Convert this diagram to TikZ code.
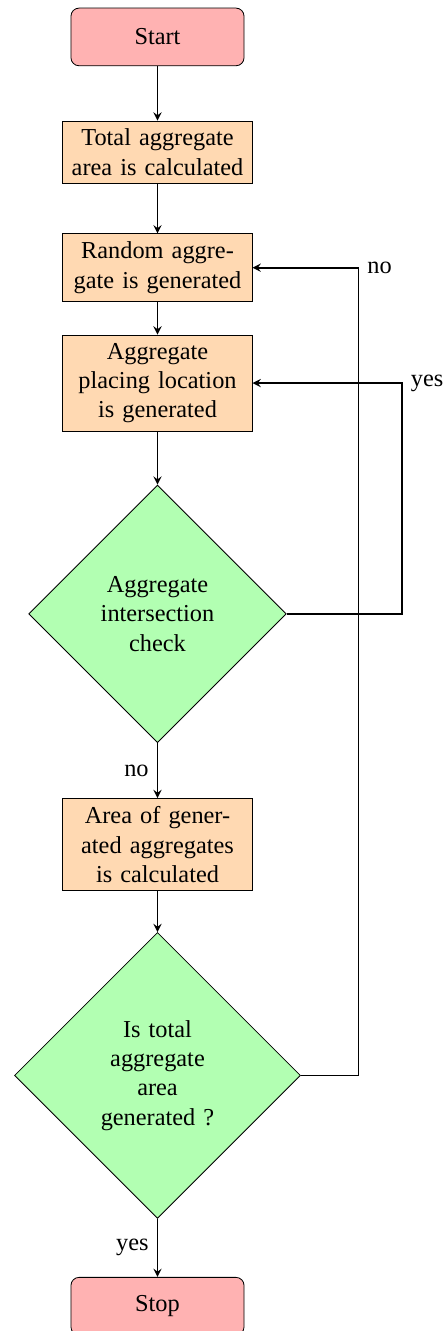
\documentclass[tikz,border=0pt,12pt]{standalone}
\usepackage{fontspec}
\setmainfont{Liberation Serif}
\usetikzlibrary{arrows,shapes.geometric,positioning}

\begin{document}
\begin{tikzpicture}[node distance=2cm]
		\tikzstyle{startstop}=[rectangle,rounded corners,minimum width=3cm,minimum height=1cm,align=center,draw=black,fill=red!30]
		\tikzstyle{process}=[rectangle,minimum width=3cm,minimum height=1cm,align=center,text width=3cm,draw=black,fill=orange!30]
		\tikzstyle{decision}=[diamond,aspect=1,align=center,text width=2.6cm,draw=black,fill=green!30]
		\tikzstyle{arrow}=[thick,->,>=stealth]
		
		\useasboundingbox (-2.73,0.64) rectangle (5.0,-22.43);
		
		\node (start)  [startstop]                  {Start};
		\node (total)  [process, below of=start]    {Total aggregate\\area is calculated};
		\node (random) [process, below of=total]    {Random aggre-\\gate is generated};
		\node (place)  [process, below of=random]   {Aggregate\\placing location\\is generated};
		\node (check)  [decision, node distance=4cm, below of=place] {Aggregate\\intersection\\check};
		\node (area)   [process, node distance=4cm, below of=check]  {Area of gener-\\ated aggregates\\is calculated};
		\node (done)   [decision, text width=2.48cm, node distance=4cm, below of=area] {Is total\\aggregate\\area\\generated ?};
		\node (stop)   [startstop, node distance=4cm, below of=done] {Stop};
		
		\draw [arrow] (start) -- (total);
		\draw [arrow] (total) -- (random);
		\draw [arrow] (random) -- (place);
		\draw [arrow] (place) -- (check);
		\draw [arrow] (check) -- node[anchor=east] {no} (area);
		\draw [arrow] (check.east) -- ++(2,0) |- node[anchor=west] {yes} (place.east);
		\draw [arrow] (area) -- (done);
		\draw [arrow] (done) -- node[anchor=east] {yes} (stop);
		\draw [arrow] (done.east) -- ++(1,0) |- node[anchor=west] {no} (random.east);
		\end{tikzpicture}
\end{document}
